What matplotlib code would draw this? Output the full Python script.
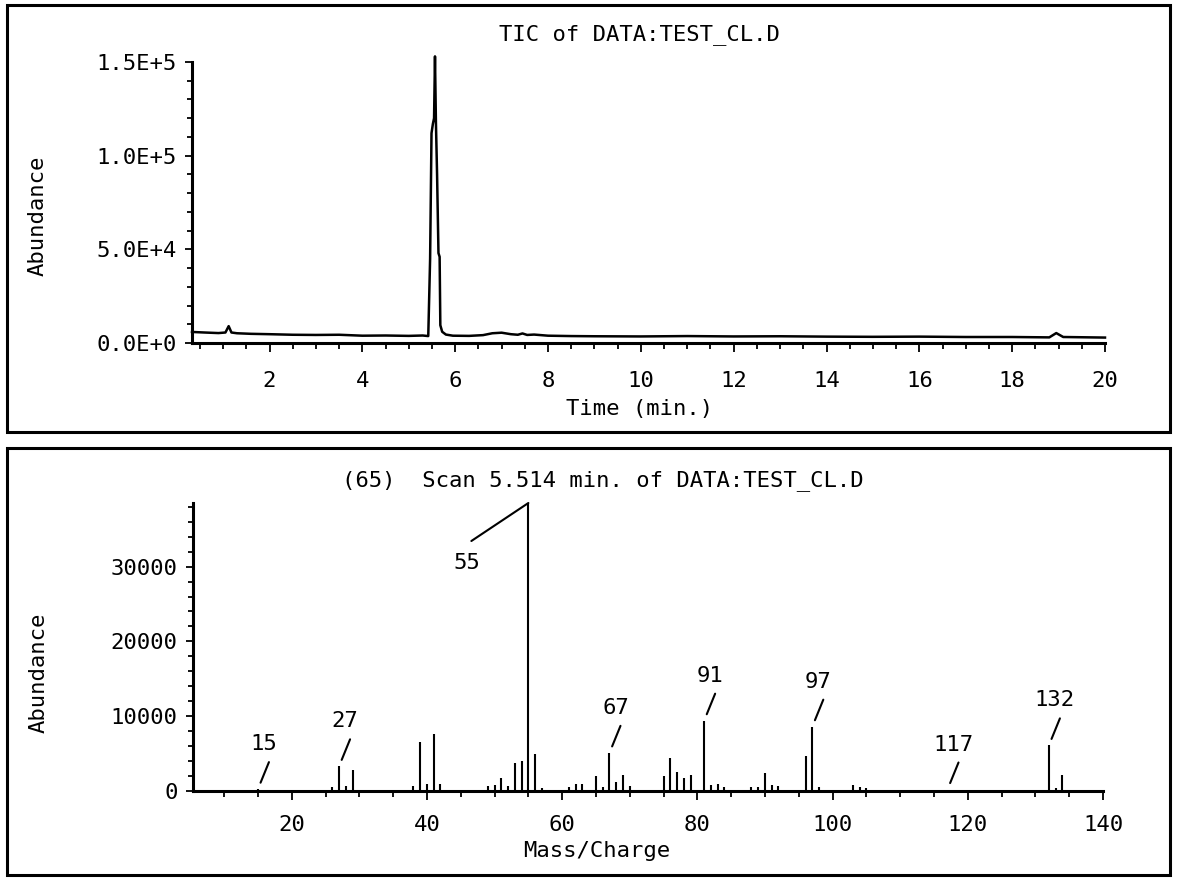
import matplotlib
matplotlib.use("Agg")
from matplotlib import pyplot as plt
from matplotlib.patches import Rectangle
from matplotlib.ticker import MultipleLocator

# total ion chromatogram (top panel)
tic_time = [0.33, 0.6, 0.9, 1.05, 1.12, 1.18, 1.3, 1.6, 2.0, 2.5,
            3.0, 3.5, 4.0, 4.5, 5.0, 5.3, 5.42, 5.46, 5.49, 5.52,
            5.545, 5.565, 5.585, 5.61, 5.64, 5.665, 5.68, 5.72, 5.8, 5.95,
            6.3, 6.6, 6.8, 7.0, 7.2, 7.35, 7.45, 7.55, 7.7, 8.0,
            8.5, 9.0, 10.0, 11.0, 12.0, 13.0, 14.0, 15.0, 16.0, 17.0,
            18.0, 18.8, 18.95, 19.1, 19.4, 20.0]
tic_abund = [5900, 5600, 5300, 5600, 9000, 5600, 5200, 4900, 4700, 4400,
             4300, 4400, 3900, 4000, 3800, 4000, 3700, 45000, 112000, 117000,
             120000, 153000, 118000, 90000, 48000, 46000, 9500, 6000, 4500, 3900,
             3800, 4200, 5200, 5500, 4700, 4400, 5100, 4300, 4500, 3900,
             3700, 3600, 3500, 3700, 3500, 3600, 3400, 3300, 3400, 3200,
             3200, 3000, 5300, 3200, 3100, 2900]
tic_yticks = [0, 50000, 100000, 150000]
tic_ylabels = ["0.0E+0", "5.0E+4", "1.0E+5", "1.5E+5"]
tic_xticks = [2, 4, 6, 8, 10, 12, 14, 16, 18, 20]

# mass spectrum of scan 65 (bottom panel)
ms_mz = [15, 26, 27, 28, 29, 38, 39, 40, 41, 42,
         49, 50, 51, 52, 53, 54, 55, 56, 57,
         61, 62, 63, 65, 66, 67, 68, 69, 70,
         75, 76, 77, 78, 79, 81, 82, 83, 84,
         88, 89, 90, 91, 92, 96, 97, 98,
         103, 104, 105, 117, 132, 133, 134]
ms_abund = [250, 600, 3300, 700, 2800, 700, 6600, 900, 7600, 900,
            700, 800, 1800, 700, 3700, 4000, 38500, 4900, 400,
            500, 900, 900, 2000, 500, 5100, 1200, 2100, 700,
            2000, 4400, 2600, 1700, 2100, 9400, 800, 900, 500,
            600, 500, 2400, 800, 700, 4700, 8600, 600,
            800, 500, 400, 200, 6100, 400, 2100]
# labelled peaks: where the label points and what it says
lab_mz = [15, 27, 55, 67, 81, 97, 117, 132]
lab_text = ["15", "27", "55", "67", "91", "97", "117", "132"]

plt.rcParams['font.family'] = ['DejaVu Sans Mono', 'DejaVu Sans']
FS = 16
W, H = 1180, 881

fig = plt.figure(figsize=(W / 100, H / 100), dpi=100)

# frames round each panel
for x0, y0, x1, y1 in [(7, 5, 1170, 432), (7, 448, 1170, 875)]:
    fig.add_artist(Rectangle((x0 / W, 1 - y1 / H), (x1 - x0) / W, (y1 - y0) / H,
                             transform=fig.transFigure, fill=False, lw=2.2, color='black'))


def style(ax):
    for s in ['top', 'right']:
        ax.spines[s].set_visible(False)
    for s in ['left', 'bottom']:
        ax.spines[s].set_linewidth(2.2)
    ax.tick_params(which='major', direction='out', length=6.5, width=1.3, labelsize=FS)
    ax.tick_params(which='minor', direction='out', length=4, width=1.3)
    ax.tick_params(axis='y', which='major', length=5, pad=6)
    ax.tick_params(axis='y', which='minor', length=3.5)


# ---- TIC ----
ax1 = fig.add_axes([192 / W, 1 - 343 / H, (1105 - 192) / W, (343 - 62) / H])
style(ax1)
ax1.plot(tic_time, tic_abund, color='black', lw=1.8, clip_on=False)
ax1.set_xlim(0.33, 20.0)
ax1.set_ylim(0, 150000)
ax1.set_xticks(tic_xticks)
ax1.set_yticks(tic_yticks, tic_ylabels)
ax1.xaxis.set_minor_locator(MultipleLocator(0.5))
ax1.yaxis.set_minor_locator(MultipleLocator(10000))
ax1.tick_params(axis='x', which='major', pad=14)
ax1.set_title("TIC of DATA:TEST_CL.D", fontsize=FS, x=0.49, pad=16)
ax1.set_xlabel("Time (min.)", fontsize=FS)
ax1.xaxis.set_label_coords(0.49, -0.2)
ax1.set_ylabel("Abundance", fontsize=FS)
ax1.yaxis.set_label_coords(-0.158, 0.452)

# ---- spectrum ----
ax2 = fig.add_axes([192.7 / W, 1 - 791 / H, (1103 - 192.7) / W, (791 - 503) / H])
style(ax2)
ax2.vlines(ms_mz, 0, ms_abund, color='black', lw=1.5)
ax2.set_xlim(5.35, 140)
ax2.set_ylim(0, 38500)
ax2.xaxis.set_major_locator(MultipleLocator(20))
ax2.xaxis.set_minor_locator(MultipleLocator(5))
ax2.set_yticks([0, 10000, 20000, 30000])
ax2.yaxis.set_minor_locator(MultipleLocator(2000))
ax2.tick_params(axis='x', which='major', pad=11)
ax2.set_title("(65)  Scan 5.514 min. of DATA:TEST_CL.D", fontsize=FS, x=0.45, pad=12)
ax2.set_xlabel("Mass/Charge", fontsize=FS)
ax2.xaxis.set_label_coords(0.444, -0.175)
ax2.set_ylabel("Abundance", fontsize=FS)
ax2.yaxis.set_label_coords(-0.158, 0.41)

for mz, txt in zip(lab_mz, lab_text):
    h = ms_abund[ms_mz.index(mz)]
    if txt == "55":
        line_off, text_off, gap = (-57, -38), (-62, -60), 0
    else:
        line_off, text_off, gap = (11, 27), (6, 45), 5
    ax2.annotate("", xy=(mz, h), xytext=line_off, textcoords='offset pixels',
                 arrowprops=dict(arrowstyle='-', lw=1.5, color='black',
                                 shrinkA=0, shrinkB=gap))
    ax2.annotate(txt, xy=(mz, h), xytext=text_off, textcoords='offset pixels',
                 ha='center', va='center', fontsize=FS)

fig.savefig("out.png", dpi=100)
